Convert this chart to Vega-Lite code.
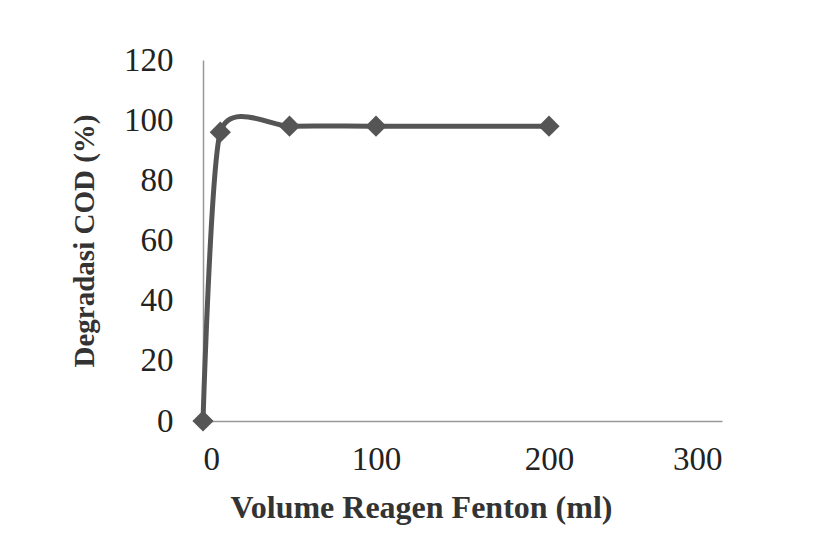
{
  "$schema": "https://vega.github.io/schema/vega-lite/v6.json",
  "width": 519,
  "height": 361,
  "autosize": "none",
  "padding": {"left": 203, "top": 60, "right": 96, "bottom": 122},
  "background": "white",
  "config": {
    "view": {"stroke": null},
    "font": "Liberation Serif"
  },
  "data": {
    "values": [
      {"volume": 0, "cod": 0},
      {"volume": 10, "cod": 96},
      {"volume": 50, "cod": 98},
      {"volume": 100, "cod": 98},
      {"volume": 200, "cod": 98}
    ]
  },
  "encoding": {
    "x": {
      "field": "volume",
      "type": "quantitative",
      "scale": {"domain": [0, 300], "nice": false},
      "axis": {
        "values": [0, 100, 200, 300],
        "title": "Volume Reagen Fenton (ml)",
        "grid": false,
        "ticks": false,
        "domainColor": "#999999",
        "domainWidth": 1.5,
        "labelFontSize": 33,
        "labelColor": "#222222",
        "labelPadding": 22,
        "labelFont": "Liberation Serif",
        "titleFont": "Liberation Serif",
        "titleFontSize": 32,
        "titleFontWeight": "bold",
        "titleColor": "#333333",
        "titlePadding": 16,
        "titleX": 218,
        "titleAnchor": "middle"
      }
    },
    "y": {
      "field": "cod",
      "type": "quantitative",
      "scale": {"domain": [0, 120], "nice": false},
      "axis": {
        "values": [0, 20, 40, 60, 80, 100, 120],
        "title": "Degradasi COD (%)",
        "grid": false,
        "ticks": false,
        "domainColor": "#999999",
        "domainWidth": 1.5,
        "labelFontSize": 33,
        "labelColor": "#222222",
        "labelPadding": 30,
        "labelFont": "Liberation Serif",
        "titleFont": "Liberation Serif",
        "titleFontSize": 29,
        "titleFontWeight": "bold",
        "titleColor": "#333333",
        "titlePadding": 24
      }
    }
  },
  "layer": [
    {
      "mark": {"type": "line", "interpolate": "cardinal", "tension": 0.35, "color": "#555555", "strokeWidth": 5}
    },
    {
      "mark": {"type": "point", "shape": "diamond", "filled": true, "color": "#555555", "size": 450, "opacity": 1}
    }
  ]
}
